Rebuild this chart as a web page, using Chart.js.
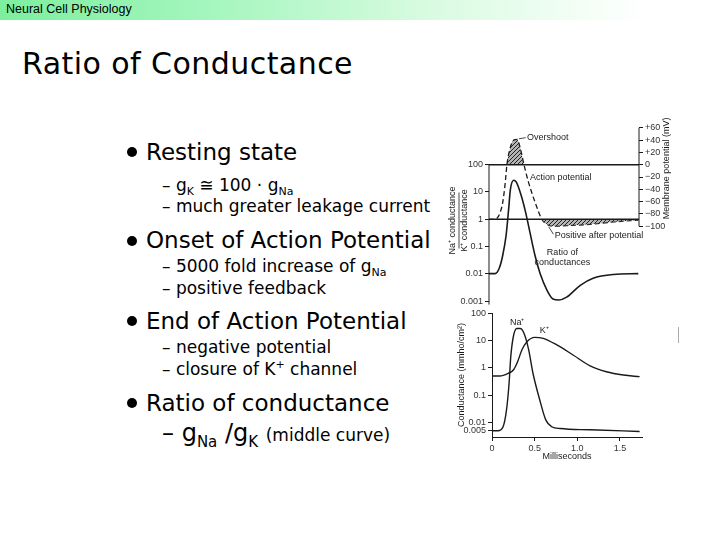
<!DOCTYPE html>
<html lang="en">
<head>
<meta charset="UTF-8">
<title>Ratio of Conductance</title>
<script src="https://cdn.jsdelivr.net/npm/chart.js"></script>
<style>
    body {
        margin: 0;
        width: 720px;
        height: 540px;
        background: #fff;
        position: relative;
        overflow: hidden;
        font-family: "DejaVu Sans", sans-serif;
        color: #000;
    }
    .header {
        position: absolute;
        left: 0; top: 0;
        width: 720px; height: 20px;
        background: linear-gradient(to right, #7cef9e 0%, #a6f6bf 30%, #d9fbe1 60%, #ffffff 90%);
    }
    .header span {
        position: absolute;
        left: 6px; top: 3px;
        font: 12.5px "Liberation Sans", Arial, sans-serif;
        line-height: 1;
    }
    .t { position: absolute; line-height: 1; white-space: nowrap; }
    h1 { margin: 0; font-weight: normal; font-size: 30px; letter-spacing: 0.45px; left: 22px; top: 49px; }
    .b { font-size: 23px; left: 146px; }
    .s { font-size: 17px; left: 162px; }
    .dot {
        position: absolute;
        width: 10px; height: 10px;
        border-radius: 50%;
        background: #000;
        left: 127px;
    }
    sub, sup { line-height: 0; font-size: 11px; }
    .big { font-size: 24px; }
    .big sub { font-size: 15px; }
    .big small { font-size: 17px; }
    #topWrap { position: absolute; left: 440px; top: 110px; }
    #botWrap { position: absolute; left: 440px; top: 300px; }
    .mark { position: absolute; left: 678px; top: 327px; width: 1px; height: 16px; background: #aaa; }
</style>
</head>
<body>

<div class="header"><span>Neural Cell Physiology</span></div>
<h1 class="t">Ratio of Conductance</h1>

<div class="dot" style="top:147px"></div>
<div class="t b" style="top:141px">Resting state</div>
<div class="t s" style="top:177px">– g<sub>K</sub> ≅ 100 · g<sub>Na</sub></div>
<div class="t s" style="top:198px">– much greater leakage current</div>

<div class="dot" style="top:236px"></div>
<div class="t b" style="top:229px">Onset of Action Potential</div>
<div class="t s" style="top:258px">– 5000 fold increase of g<sub>Na</sub></div>
<div class="t s" style="top:280px">– positive feedback</div>

<div class="dot" style="top:316px"></div>
<div class="t b" style="top:310px">End of Action Potential</div>
<div class="t s" style="top:339px">– negative potential</div>
<div class="t s" style="top:361px">– closure of K<sup>+</sup> channel</div>

<div class="dot" style="top:398px"></div>
<div class="t b" style="top:392px">Ratio of conductance</div>
<div class="t s big" style="top:421px">– g<sub>Na</sub> /g<sub>K</sub> <small>(middle curve)</small></div>

<div class="mark"></div>

<div id="topWrap"><canvas id="topChart" width="260" height="202"></canvas></div>
<div id="botWrap"><canvas id="botChart" width="260" height="172"></canvas></div>

<script>
    // upper panel: action potential (mV) and gNa/gK ratio, time in ms
    const apTime  = [0, 0.07, 0.10, 0.13, 0.16, 0.19, 0.21, 0.25, 0.29, 0.33, 0.37, 0.41, 0.46, 0.54, 0.62, 0.68, 0.75, 0.91, 1.18, 1.46, 1.75];
    const apMv    = [-89, -89, -86, -78, -62, -30, 0, 28, 40, 41, 25, 0, -27, -61, -89, -97, -100, -99, -97, -93, -90];

    const ratioTime = [0, 0.07, 0.12, 0.16, 0.20, 0.23, 0.25, 0.29, 0.32, 0.38, 0.43, 0.48, 0.54, 0.60, 0.68, 0.75, 0.82, 0.91, 1.07, 1.22, 1.46, 1.75];
    const ratioVal  = [0.0102, 0.0102, 0.016, 0.046, 0.25, 2.3, 12, 27, 23, 7, 1.75, 0.33, 0.046, 0.01, 0.0025, 0.0012, 0.0011, 0.0014, 0.0038, 0.0069, 0.0095, 0.0102];

    // reference levels drawn across the upper panel (ratio axis)
    const refTime   = [0, 1.76];
    const refLevels = [100, 1];

    // lower panel: conductances (mmho/cm2)
    const naTime = [0, 0.07, 0.13, 0.17, 0.20, 0.22, 0.25, 0.29, 0.33, 0.375, 0.43, 0.48, 0.56, 0.63, 0.70, 0.80, 1.15, 1.73];
    const naVal  = [0.005, 0.005, 0.007, 0.029, 0.27, 2.6, 14, 28, 28, 18.7, 4.6, 0.64, 0.067, 0.0125, 0.007, 0.006, 0.0054, 0.0047];

    const kTime = [0, 0.09, 0.19, 0.25, 0.30, 0.35, 0.41, 0.50, 0.60, 0.76, 0.95, 1.15, 1.34, 1.54, 1.73];
    const kVal  = [0.51, 0.51, 0.64, 0.84, 1.7, 4.6, 9.2, 13.3, 12.2, 7, 3, 1.2, 0.73, 0.55, 0.48];

    // tick labels
    const ratioTicks = [0.001, 0.01, 0.1, 1, 10, 100];
    const mvTicks    = [-100, -80, -60, -40, -20, 0, 20, 40, 60];
    const condTicks  = [0.005, 0.01, 0.1, 1, 10, 100];
    const msTicks    = [0, 0.5, 1, 1.5];

    const ink = '#1a1a1a';
    const tickFont = { family: 'Liberation Sans', size: 9 };

    function pts(xs, ys) {
        return xs.map((x, i) => ({ x: x, y: ys[i] }));
    }

    function hatch() {
        const c = document.createElement('canvas');
        c.width = 4; c.height = 4;
        const g = c.getContext('2d');
        g.fillStyle = 'rgba(130,130,130,0.6)';
        g.fillRect(0, 0, 4, 4);
        g.strokeStyle = '#222';
        g.lineWidth = 1;
        g.beginPath();
        g.moveTo(0, 4); g.lineTo(4, 0);
        g.stroke();
        return g.createPattern(c, 'repeat');
    }

    const axisBase = {
        grid: { drawOnChartArea: false, tickLength: 4, color: ink, lineWidth: 1 },
        border: { color: ink, width: 1 },
        ticks: { color: '#333', font: tickFont, padding: 2, autoSkip: false, maxRotation: 0 }
    };

    // text notes drawn on the figure
    const notesPlugin = {
        id: 'notes',
        afterDatasetsDraw(chart, args, opts) {
            const ctx = chart.ctx;
            ctx.save();
            ctx.fillStyle = ink;
            ctx.strokeStyle = ink;
            ctx.lineWidth = 0.8;
            ctx.font = '9px "Liberation Sans"';
            ctx.textBaseline = 'middle';
            opts.draw(chart, ctx);
            ctx.restore();
        }
    };

    const hatchFill = hatch();

    new Chart(document.getElementById('topChart'), {
        type: 'line',
        data: {
            datasets: [
                {
                    data: pts(refTime, [refLevels[0], refLevels[0]]),
                    yAxisID: 'yR', borderColor: ink, borderWidth: 1.4, fill: false
                },
                {
                    data: pts(refTime, [refLevels[1], refLevels[1]]),
                    yAxisID: 'yR', borderColor: ink, borderWidth: 1.4, fill: false
                },
                {
                    // after-potential shading below the resting level
                    data: pts(apTime, apMv),
                    yAxisID: 'yM', borderWidth: 0, borderColor: 'transparent',
                    cubicInterpolationMode: 'monotone',
                    fill: { target: { value: -89 }, above: 'transparent', below: hatchFill }
                },
                {
                    data: pts(apTime, apMv),
                    yAxisID: 'yM', borderColor: ink, borderWidth: 1.3, borderDash: [5, 3],
                    cubicInterpolationMode: 'monotone',
                    fill: { target: { value: 0 }, above: hatchFill, below: 'transparent' }
                },
                {
                    data: pts(ratioTime, ratioVal),
                    yAxisID: 'yR', borderColor: ink, borderWidth: 1.6,
                    cubicInterpolationMode: 'monotone', fill: false
                }
            ]
        },
        options: {
            responsive: false,
            animation: false,
            layout: { padding: { left: 0, right: 0, top: 16, bottom: 6 } },
            elements: { point: { radius: 0 } },
            plugins: {
                legend: { display: false },
                tooltip: { enabled: false },
                notes: {
                    draw(chart, ctx) {
                        const x = chart.scales.x, m = chart.scales.yM, r = chart.scales.yR;
                        const area = chart.chartArea;

                        // axis lines: ratio axis from 100 downwards, potential axis over its labelled range
                        ctx.lineWidth = 1;
                        ctx.beginPath();
                        ctx.moveTo(area.left, r.getPixelForValue(ratioTicks[ratioTicks.length - 1]));
                        ctx.lineTo(area.left, area.bottom);
                        ctx.moveTo(area.right, m.getPixelForValue(mvTicks[mvTicks.length - 1]));
                        ctx.lineTo(area.right, m.getPixelForValue(mvTicks[0]));
                        ctx.stroke();
                        ctx.lineWidth = 0.8;

                        // overshoot
                        ctx.beginPath();
                        ctx.moveTo(x.getPixelForValue(0.35), m.getPixelForValue(42));
                        ctx.lineTo(x.getPixelForValue(0.43), m.getPixelForValue(44));
                        ctx.stroke();
                        ctx.textAlign = 'left';
                        ctx.fillText('Overshoot', x.getPixelForValue(0.445), m.getPixelForValue(44));
                        ctx.fillText('Action potential', x.getPixelForValue(0.48), m.getPixelForValue(-21));
                        ctx.beginPath();
                        ctx.moveTo(x.getPixelForValue(0.70), m.getPixelForValue(-101));
                        ctx.lineTo(x.getPixelForValue(0.755), m.getPixelForValue(-113));
                        ctx.stroke();
                        ctx.fillText('Positive after potential', x.getPixelForValue(0.77), m.getPixelForValue(-115));
                        ctx.textAlign = 'center';
                        ctx.fillText('Ratio of', x.getPixelForValue(0.86), r.getPixelForValue(0.058));
                        ctx.fillText('conductances', x.getPixelForValue(0.86), r.getPixelForValue(0.025));

                        // right axis title, reads upward
                        ctx.save();
                        ctx.translate(m.right - 33, m.getPixelForValue(-6));
                        ctx.rotate(-Math.PI / 2);
                        ctx.fillText('Membrane potential (mV)', 0, 0);
                        ctx.restore();

                        // left axis title as a fraction
                        ctx.save();
                        ctx.translate(r.left + 19, r.getPixelForValue(0.9));
                        ctx.rotate(-Math.PI / 2);
                        ctx.fillText('Na⁺ conductance', 0, -6);
                        ctx.fillText('K⁺ conductance', 0, 6);
                        ctx.beginPath();
                        ctx.moveTo(-28, 0); ctx.lineTo(28, 0);
                        ctx.stroke();
                        ctx.restore();
                    }
                }
            },
            scales: {
                x: { type: 'linear', display: false, min: 0, max: 1.758 },
                yR: Object.assign({}, axisBase, {
                    type: 'logarithmic', position: 'left',
                    min: 0.000746, max: 2620,
                    border: { display: false },
                    afterBuildTicks: s => { s.ticks = ratioTicks.map(v => ({ value: v })); },
                    afterFit: s => { s.width = 49; },
                    ticks: Object.assign({}, axisBase.ticks, { callback: v => String(v) })
                }),
                yM: Object.assign({}, axisBase, {
                    type: 'linear', position: 'right',
                    min: -227.4, max: 62.9,
                    border: { display: false },
                    afterBuildTicks: s => { s.ticks = mvTicks.map(v => ({ value: v })); },
                    afterFit: s => { s.width = 61; },
                    ticks: Object.assign({}, axisBase.ticks, {
                        callback: v => v > 0 ? '+' + v : (v < 0 ? '−' + Math.abs(v) : '0')
                    })
                })
            }
        },
        plugins: [notesPlugin]
    });

    new Chart(document.getElementById('botChart'), {
        type: 'line',
        data: {
            datasets: [
                {
                    data: pts(naTime, naVal),
                    borderColor: ink, borderWidth: 1.4,
                    cubicInterpolationMode: 'monotone', fill: false
                },
                {
                    data: pts(kTime, kVal),
                    borderColor: ink, borderWidth: 1.4,
                    cubicInterpolationMode: 'monotone', fill: false
                }
            ]
        },
        options: {
            responsive: false,
            animation: false,
            layout: { padding: { left: 0, right: 58, top: 13, bottom: 0 } },
            elements: { point: { radius: 0 } },
            plugins: {
                legend: { display: false },
                tooltip: { enabled: false },
                notes: {
                    draw(chart, ctx) {
                        const x = chart.scales.x, y = chart.scales.y;
                        ctx.textAlign = 'left';
                        ctx.fillText('Na⁺', x.getPixelForValue(0.21), y.getPixelForValue(45));
                        ctx.fillText('K⁺', x.getPixelForValue(0.56), y.getPixelForValue(23));
                    }
                }
            },
            scales: {
                x: Object.assign({}, axisBase, {
                    type: 'linear', min: 0, max: 1.758,
                    afterBuildTicks: s => { s.ticks = msTicks.map(v => ({ value: v })); },
                    afterFit: s => { s.height = 35; },
                    ticks: Object.assign({}, axisBase.ticks, { callback: v => v === 0 ? '0' : v.toFixed(1) }),
                    title: {
                        display: true, text: 'Milliseconds', color: ink,
                        font: { family: 'Liberation Sans', size: 9 }, padding: { top: 2, bottom: 10 }
                    }
                }),
                y: Object.assign({}, axisBase, {
                    type: 'logarithmic', position: 'left',
                    min: 0.00294, max: 104,
                    afterBuildTicks: s => { s.ticks = condTicks.map(v => ({ value: v })); },
                    afterFit: s => { s.width = 52; },
                    ticks: Object.assign({}, axisBase.ticks, { callback: v => String(v) }),
                    title: {
                        display: true, text: 'Conductance (mmho/cm²)', color: ink,
                        font: { family: 'Liberation Sans', size: 9 }, padding: { top: 16, bottom: 0 }
                    }
                })
            }
        },
        plugins: [notesPlugin]
    });
</script>

</body>
</html>
